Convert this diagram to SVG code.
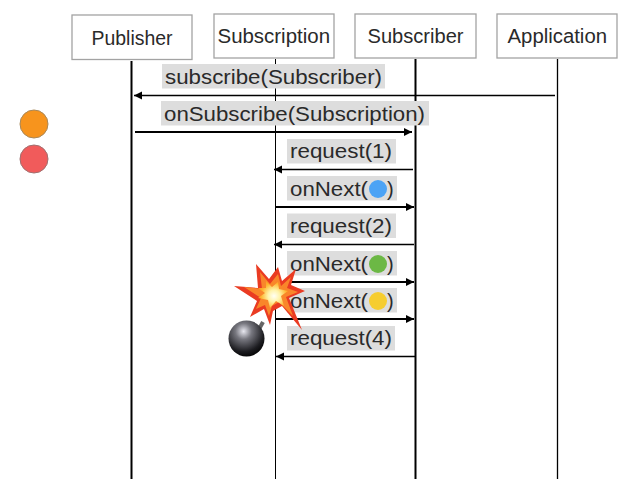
<svg xmlns="http://www.w3.org/2000/svg" width="638" height="479" viewBox="0 0 638 479">
<style>
text{font-family:"Liberation Sans",Arial,sans-serif;fill:#2a2a2a;}
.box{fill:#fff;stroke:#a3a3a3;stroke-width:1.3;}
.name{font-size:20px;}
.lab{fill:#dddddd;}
.msg{font-size:20px;}
.life{stroke:#000;fill:none;}
.arr{stroke:#000;stroke-width:1.3;fill:none;}
.thick{stroke-width:1.8;}
</style>
<defs>
<marker id="ah" markerUnits="userSpaceOnUse" markerWidth="10" markerHeight="10" refX="8" refY="4" orient="auto"><path d="M0 0L8 4L0 8Z" fill="#000"/></marker>
<radialGradient id="bomb" cx="0.42" cy="0.3" r="0.75"><stop offset="0" stop-color="#e8e8f0"/><stop offset="0.3" stop-color="#77777f"/><stop offset="0.75" stop-color="#1c1c20"/><stop offset="1" stop-color="#000"/></radialGradient>
<radialGradient id="core" gradientUnits="userSpaceOnUse" cx="274" cy="296" r="20"><stop offset="0" stop-color="#fffff5"/><stop offset="0.3" stop-color="#fff3a8"/><stop offset="0.65" stop-color="#fdb52e"/><stop offset="1" stop-color="#f78a1e"/></radialGradient>
</defs>
<g id="connectors">
<path class="life" stroke-width="2" d="M131.500 61V479"/>
<path class="life" stroke-width="1" d="M275.500 59V479"/>
<path class="life" stroke-width="2" d="M415.500 59V479"/>
<path class="life" stroke-width="1.300" d="M557.500 59V479"/>
</g>
<g id="labels-bg">
<rect class="lab" x="162" y="64" width="223" height="24.500"/>
<rect class="lab" x="161" y="101" width="268" height="24.500"/>
<rect class="lab" x="287" y="139" width="109" height="24.500"/>
<rect class="lab" x="287" y="176" width="110" height="24.500"/>
<rect class="lab" x="287" y="213.500" width="109" height="24.500"/>
<rect class="lab" x="287" y="251" width="110" height="24.500"/>
<rect class="lab" x="287" y="288" width="110" height="24.500"/>
<rect class="lab" x="287" y="326" width="108" height="24.500"/>
</g>
<g id="messages">
<path class="arr" marker-end="url(#ah)" d="M555 95.500H134"/>
<path class="arr thick" marker-end="url(#ah)" d="M135 132H412"/>
<path class="arr" marker-end="url(#ah)" d="M413 169.500H274"/>
<path class="arr thick" marker-end="url(#ah)" d="M275 207H414"/>
<path class="arr" marker-end="url(#ah)" d="M414 244.500H274"/>
<path class="arr thick" marker-end="url(#ah)" d="M275 282H414"/>
<path class="arr thick" marker-end="url(#ah)" d="M275 319H414"/>
<path class="arr" marker-end="url(#ah)" d="M415 356.500H276"/>
</g>
<g id="publisher"><rect class="box" x="72" y="15" width="120" height="44.500"/><text class="name" x="91.500" y="45" textLength="81" lengthAdjust="spacingAndGlyphs">Publisher</text></g>
<g id="subscription"><rect class="box" x="214" y="14" width="120" height="44"/><text class="name" x="217.500" y="43" textLength="112.500" lengthAdjust="spacingAndGlyphs">Subscription</text></g>
<g id="subscriber"><rect class="box" x="355" y="14" width="121" height="44"/><text class="name" x="367.500" y="43" textLength="96" lengthAdjust="spacingAndGlyphs">Subscriber</text></g>
<g id="application"><rect class="box" x="497" y="14" width="120" height="44"/><text class="name" x="507.500" y="43" textLength="99.500" lengthAdjust="spacingAndGlyphs">Application</text></g>
<g id="msg-texts">
<text class="msg" x="165" y="84" textLength="217" lengthAdjust="spacingAndGlyphs">subscribe(Subscriber)</text>
<text class="msg" x="164" y="121" textLength="261" lengthAdjust="spacingAndGlyphs">onSubscribe(Subscription)</text>
<text class="msg" x="290" y="158" textLength="102" lengthAdjust="spacingAndGlyphs">request(1)</text>
<text class="msg" x="290" y="196" textLength="78" lengthAdjust="spacingAndGlyphs">onNext(</text>
<text class="msg" x="387" y="196">)</text>
<text class="msg" x="290" y="233" textLength="102" lengthAdjust="spacingAndGlyphs">request(2)</text>
<text class="msg" x="290" y="271" textLength="78" lengthAdjust="spacingAndGlyphs">onNext(</text>
<text class="msg" x="387" y="271">)</text>
<text class="msg" x="290" y="308" textLength="78" lengthAdjust="spacingAndGlyphs">onNext(</text>
<text class="msg" x="387" y="308">)</text>
<text class="msg" x="290" y="345" textLength="102" lengthAdjust="spacingAndGlyphs">request(4)</text>
</g>
<g id="dots">
<circle cx="378" cy="189" r="9" fill="#4ca3f5"/>
<circle cx="378" cy="264" r="9" fill="#6cb845"/>
<circle cx="378" cy="301" r="9" fill="#f6cd2f"/>
</g>
<g id="orange-marble"><circle cx="34" cy="124" r="14" fill="#f7941d" stroke="#a8885a" stroke-width="1"/></g>
<g id="red-marble"><circle cx="34" cy="159" r="14" fill="#f15b5b" stroke="#a07070" stroke-width="1"/></g>
<g id="bomb-icon">
<path d="M258 331L263 322" stroke="#666" stroke-width="4"/>
<circle cx="246.500" cy="338.500" r="18" fill="url(#bomb)"/>
</g>
<g id="explosion">
<path fill="#ea3b22" d="M256 264L269 279L278 267L282 281L296 269L291 285L305 291L289 298L302 330L282 306L273 311L270 325L264 309L250 317L257 301L234 286L258 288Z"/>
<path fill="#f9862a" d="M260 272L270 284L278 274L281 286L291 277L287 288L298 292L286 297L293 316L279 302L272 306L269 316L265 305L256 309L261 298L244 287L262 289Z"/>
<path fill="url(#core)" d="M266 281L272 287L278 282L279 289L288 291L281 296L284 306L276 301L270 308L268 300L258 298L265 293L258 288L266 288Z"/>
</g>
</svg>
